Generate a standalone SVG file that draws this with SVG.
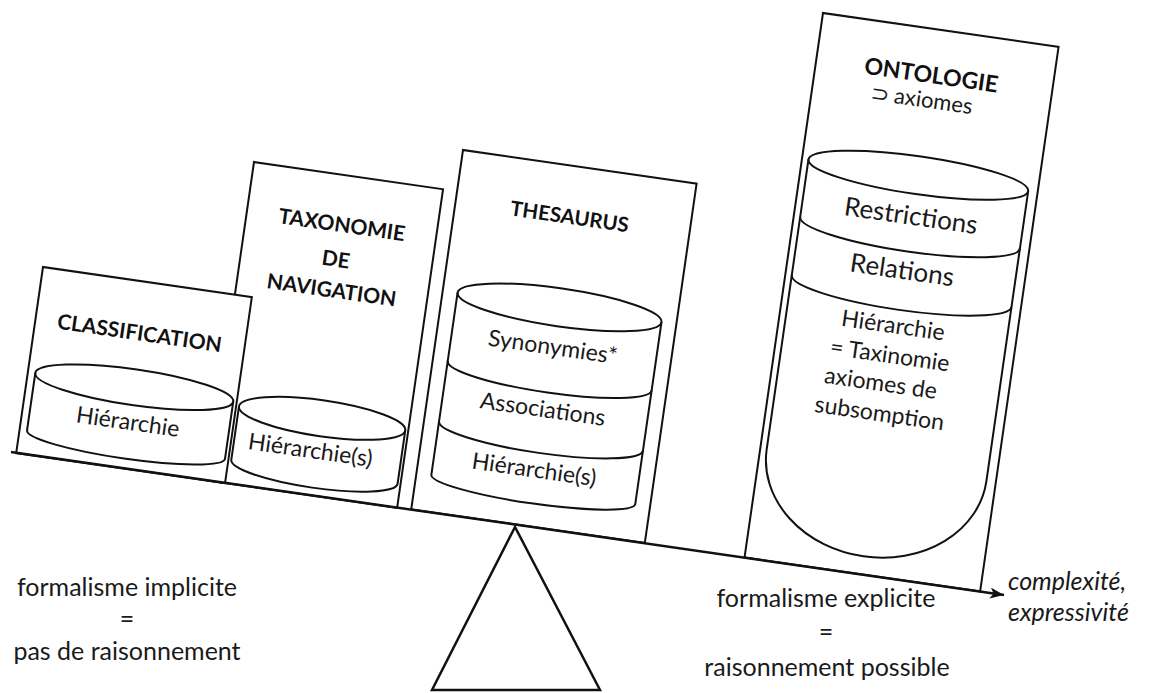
<svg xmlns="http://www.w3.org/2000/svg" width="1149" height="693" viewBox="0 0 1149 693">
  <style>
    .frame { fill: #ffffff; stroke: #111111; stroke-width: 2; }
    .can { fill: #ffffff; stroke: #111111; stroke-width: 2; }
    .edge { fill: none; stroke: #111111; stroke-width: 2; }
    .title { font-family: Lato, "Liberation Sans", sans-serif; font-weight: 700; fill: #111111; text-anchor: middle; }
    .lbl { font-family: Lato, "Liberation Sans", sans-serif; fill: #1a1a1a; text-anchor: middle; }
    .note { font-family: Lato, "Liberation Sans", sans-serif; font-size: 25px; fill: #1a1a1a; text-anchor: middle; }
    .axis { font-family: Lato, "Liberation Sans", sans-serif; font-size: 25px; font-style: italic; fill: #1a1a1a; }
  </style>
  <defs>
    <marker id="head" markerUnits="userSpaceOnUse" markerWidth="16" markerHeight="12" refX="14" refY="5.5" orient="auto">
      <path d="M0,0 L14,5.5 L0,11 L3.5,5.5 Z" fill="#111111"/>
    </marker>
  </defs>

  <!-- taxonomy panel (drawn first: the classification panel overlaps it) -->
  <g id="taxonomie" transform="translate(254,162) rotate(8.2)">
    <rect class="frame" x="0" y="0" width="191" height="322"/>
    <text class="title" x="96" y="57" font-size="21">TAXONOMIE</text>
    <text class="title" x="95" y="92" font-size="21">DE</text>
    <text class="title" x="95" y="123" font-size="21">NAVIGATION</text>
    <path class="can" d="M20,244 A84,18 0 0 1 188,244 L188,298 A84,16 0 0 1 20,298 Z"/>
    <path class="edge" d="M20,244 A84,18 0 0 0 188,244"/>
    <text class="lbl" x="97" y="285" font-size="23">Hiérarchie(s)</text>
  </g>

  <!-- classification panel -->
  <g id="classification" transform="translate(43,267) rotate(8.2)">
    <rect class="frame" x="0" y="0" width="211" height="188"/>
    <text class="title" x="105" y="59" font-size="21">CLASSIFICATION</text>
    <path class="can" d="M7.5,106 A100,18 0 0 1 207.5,106 L207.5,164 A100,14 0 0 1 7.5,164 Z"/>
    <path class="edge" d="M7.5,106 A100,18 0 0 0 207.5,106"/>
    <text class="lbl" x="106" y="149" font-size="23">Hiérarchie</text>
  </g>

  <!-- thesaurus panel -->
  <g id="thesaurus" transform="translate(463,150) rotate(8.2)">
    <rect class="frame" x="0" y="0" width="236" height="363"/>
    <text class="title" x="115" y="58" font-size="20.5">THESAURUS</text>
    <path class="can" d="M15,142 A103,19 0 0 1 221,142 L221,326 A103,14 0 0 1 15,326 Z"/>
    <path class="edge" d="M15,142 A103,19 0 0 0 221,142"/>
    <path class="edge" d="M15,211 A103,17 0 0 0 221,211"/>
    <path class="edge" d="M15,272 A103,17 0 0 0 221,272"/>
    <text class="lbl" x="117" y="190" font-size="23">Synonymies*</text>
    <text class="lbl" x="116" y="253" font-size="23">Associations</text>
    <text class="lbl" x="116" y="314" font-size="23">Hiérarchie(s)</text>
  </g>

  <!-- ontology panel -->
  <g id="ontologie" transform="translate(823,13) rotate(8.2)">
    <rect class="frame" x="0" y="0" width="238" height="550"/>
    <text class="title" x="116" y="54" font-size="23">ONTOLOGIE</text>
    <text class="lbl" x="110" y="79" font-size="22">⊃ axiomes</text>
    <path class="can" d="M6.5,147 A111,19 0 0 1 228.5,147 L228.5,440 A111,92 0 0 1 6.5,440 Z"/>
    <path class="edge" d="M6.5,147 A111,19 0 0 0 228.5,147"/>
    <path class="edge" d="M6.5,205 A111,19 0 0 0 228.5,205"/>
    <path class="edge" d="M6.5,264 A111,19 0 0 0 228.5,264"/>
    <text class="lbl" x="116" y="197" font-size="26">Restrictions</text>
    <text class="lbl" x="115" y="252" font-size="26">Relations</text>
    <text class="lbl" x="114" y="307" font-size="23">Hiérarchie</text>
    <text class="lbl" x="115" y="337" font-size="23">= Taxinomie</text>
    <text class="lbl" x="110" y="366" font-size="23">axiomes de</text>
    <text class="lbl" x="113" y="396" font-size="23">subsomption</text>
  </g>

  <!-- fulcrum -->
  <g id="pivot">
    <polygon points="515,527 432,690 600,690" fill="#ffffff" stroke="#111111" stroke-width="2.5" stroke-linejoin="miter"/>
  </g>

  <!-- beam / axis -->
  <g id="connectors">
    <line x1="11" y1="452" x2="1004" y2="595" stroke="#111111" stroke-width="2.5" marker-end="url(#head)"/>
  </g>

  <!-- side captions -->
  <g id="implicite">
    <text class="note" x="127" y="596">formalisme implicite</text>
    <text class="note" x="127" y="628">=</text>
    <text class="note" x="127" y="660">pas de raisonnement</text>
  </g>
  <g id="explicite">
    <text class="note" x="826" y="607">formalisme explicite</text>
    <text class="note" x="826" y="641">=</text>
    <text class="note" x="827" y="676">raisonnement possible</text>
  </g>
  <g id="axe">
    <text class="axis" x="1008" y="590">complexité,</text>
    <text class="axis" x="1008" y="621">expressivité</text>
  </g>
</svg>
